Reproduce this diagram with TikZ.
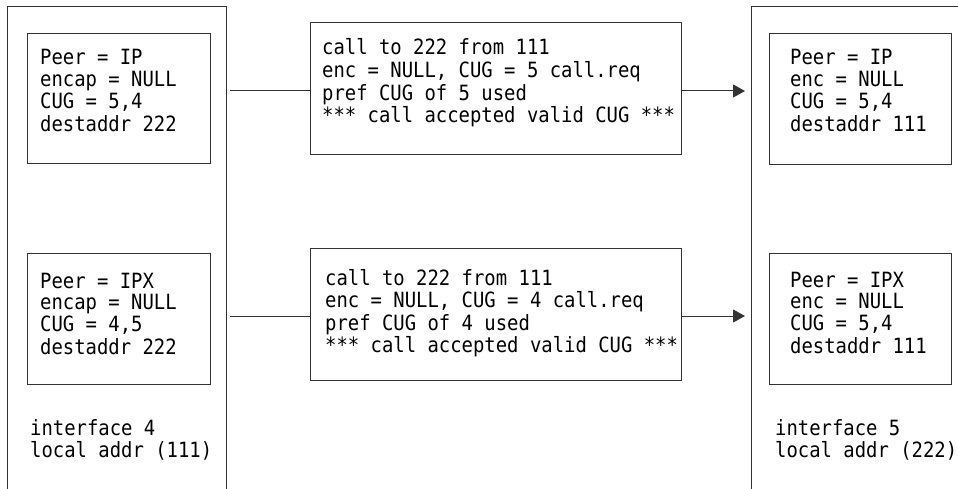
\documentclass[tikz,border=0pt]{standalone}
\usepackage{fontspec}
\newfontfamily\jmono{DejaVu Sans Mono}[FakeStretch=0.9]
\usetikzlibrary{arrows.meta}
\begin{document}
\begin{tikzpicture}[x=1pt,y=-1pt,
  frame/.style={draw=black!80,line width=1pt},
  txt/.style={anchor=base west,inner sep=0pt,font=\jmono\fontsize{21pt}{21.7pt}\selectfont},
  link/.style={draw=black!80,line width=1pt},
  arr/.style={link,-{Triangle[length=12pt,width=13pt]}}]
\useasboundingbox (0,0) rectangle (958,489);
% interface frames (open at bottom / right)
\draw[frame] (7,489) -- (7,7) -- (226,7) -- (226,489);
\draw[frame] (751,489) -- (751,7) -- (958,7);
% inner boxes
\node[frame,minimum width=183pt,minimum height=130pt,inner sep=0pt] (tl) at (118.5,99) {};
\node[frame,minimum width=183pt,minimum height=131pt,inner sep=0pt] (bl) at (118.5,318.5) {};
\node[frame,minimum width=371pt,minimum height=132pt,inner sep=0pt] (tm) at (495.5,89) {};
\node[frame,minimum width=371pt,minimum height=132pt,inner sep=0pt] (bm) at (495.5,314) {};
\node[frame,minimum width=182pt,minimum height=131pt,inner sep=0pt] (tr) at (860,99.5) {};
\node[frame,minimum width=182pt,minimum height=131pt,inner sep=0pt] (br) at (860,318.5) {};
% texts
\node[txt] (tltext) at (40,65) {\begin{tabular}[t]{@{}l@{}}Peer = IP\\encap = NULL\\CUG = 5,4\\destaddr 222\end{tabular}};
\node[txt] (bltext) at (40,288) {\begin{tabular}[t]{@{}l@{}}Peer = IPX\\encap = NULL\\CUG = 4,5\\destaddr 222\end{tabular}};
\node[txt] (tmtext) at (322,55) {\begin{tabular}[t]{@{}l@{}}call to 222 from 111\\enc = NULL, CUG = 5 call.req\\pref CUG of 5 used\\\relax*** call accepted valid CUG ***\end{tabular}};
\node[txt] (bmtext) at (325,285) {\begin{tabular}[t]{@{}l@{}}call to 222 from 111\\enc = NULL, CUG = 4 call.req\\pref CUG of 4 used\\\relax*** call accepted valid CUG ***\end{tabular}};
\node[txt] (trtext) at (790,65) {\begin{tabular}[t]{@{}l@{}}Peer = IP\\enc = NULL\\CUG = 5,4\\destaddr 111\end{tabular}};
\node[txt] (brtext) at (790,287) {\begin{tabular}[t]{@{}l@{}}Peer = IPX\\enc = NULL\\CUG = 5,4\\destaddr 111\end{tabular}};
\node[txt] (llabel) at (30,435) {\begin{tabular}[t]{@{}l@{}}interface 4\\local addr (111)\end{tabular}};
\node[txt] (rlabel) at (775,435) {\begin{tabular}[t]{@{}l@{}}interface 5\\local addr (222)\end{tabular}};
% connectors
\coordinate (s1) at (230,91);
\coordinate (e1) at (745,91);
\coordinate (s2) at (230,316);
\coordinate (e2) at (745,316);
\draw[link] (s1) -- (s1 -| tm.west);
\draw[arr] (s1 -| tm.east) -- (e1);
\draw[link] (s2) -- (s2 -| bm.west);
\draw[arr] (s2 -| bm.east) -- (e2);
\end{tikzpicture}
\end{document}
